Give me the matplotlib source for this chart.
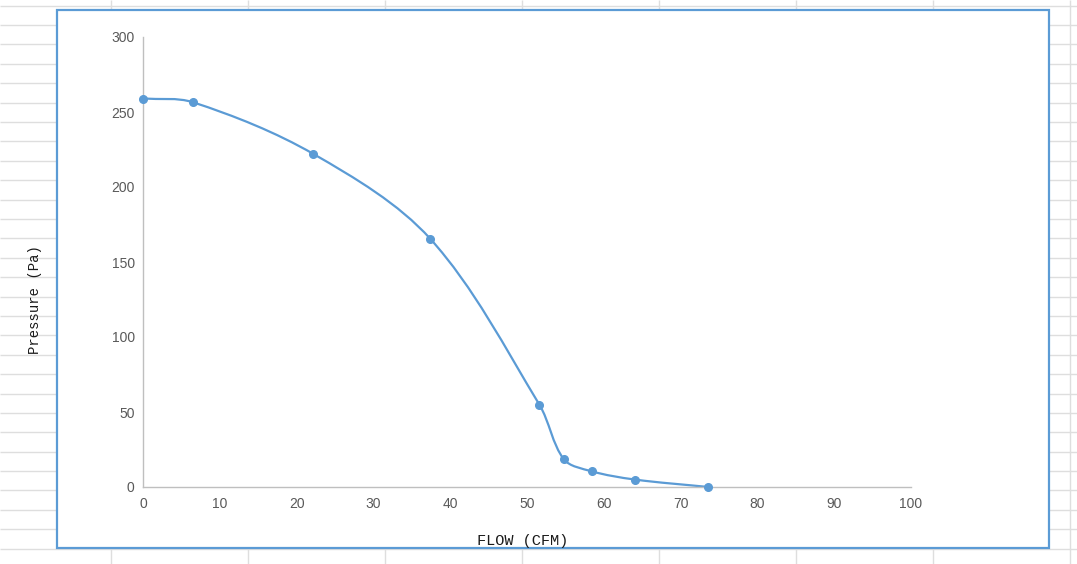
import numpy as np
import matplotlib.pyplot as plt
from matplotlib.path import Path
from matplotlib.patches import PathPatch, Rectangle

# fan curve values
flow = [0, 6.5, 22.2, 37.4, 51.6, 54.8, 58.4, 64.0, 73.6]
pressure = [259, 256.5, 222, 165.5, 55, 18.5, 10.5, 5, 0]
xticks = [0, 10, 20, 30, 40, 50, 60, 70, 80, 90, 100]
yticks = [0, 50, 100, 150, 200, 250, 300]

W, H = 1077, 564
blue = '#5b9bd5'
fig = plt.figure(figsize=(W / 100, H / 100), dpi=100)

# spreadsheet cells behind the chart box
bg = fig.add_axes([0, 0, 1, 1], zorder=-1)
bg.set_xlim(0, W)
bg.set_ylim(H, 0)
bg.axis('off')
bg.hlines(np.arange(5.5, H, 19.4), 0, W, color='#dedede', lw=1, zorder=1)
bg.vlines(np.arange(111, W, 137), 0, H, color='#dedede', lw=1, zorder=1)
bg.add_patch(Rectangle((57, 10), 992, 538, facecolor='white', edgecolor=blue,
                       lw=1.6, zorder=3))

ax = fig.add_axes([143 / W, 77 / H, (911 - 143) / W, (487 - 37) / H])
ax.set_facecolor('none')
ax.set_xlim(0, 100)
ax.set_ylim(0, 300)
ax.set_xticks(xticks)
ax.set_yticks(yticks)
for s in ['top', 'right']:
    ax.spines[s].set_visible(False)
for s in ['left', 'bottom']:
    ax.spines[s].set_color('#bfbfbf')
    ax.spines[s].set_linewidth(1.0)
ax.tick_params(length=0, labelsize=10, labelcolor='#595959')
ax.tick_params(axis='x', pad=7)
ax.tick_params(axis='y', pad=6)
for lab in ax.get_xticklabels() + ax.get_yticklabels():
    lab.set_fontfamily('Liberation Sans')

# smoothed line: bezier segments, tangents scaled by segment length (in pixels)
sx, sy = 7.68, 1.5
pts = np.column_stack([flow, pressure]).astype(float) * [sx, sy]
n = len(pts)
d = np.hypot(*np.diff(pts, axis=0).T)
tan = np.zeros_like(pts)
for i in range(n):
    a = pts[max(i - 1, 0)]
    b = pts[min(i + 1, n - 1)]
    tan[i] = b - a
verts = [tuple(pts[0])]
codes = [Path.MOVETO]
for i in range(n - 1):
    dl = d[i - 1] if i > 0 else d[i]
    dr = d[i + 1] if i < n - 2 else d[i]
    c1 = pts[i] + tan[i] * d[i] / (dl + d[i]) / 3 * (2 if i == 0 else 1)
    c2 = pts[i + 1] - tan[i + 1] * d[i] / (d[i] + dr) / 3 * (2 if i == n - 2 else 1)
    verts += [tuple(c1), tuple(c2), tuple(pts[i + 1])]
    codes += [Path.CURVE4] * 3
verts = np.array(verts) / [sx, sy]
ax.add_patch(PathPatch(Path(verts, codes), facecolor='none', edgecolor=blue,
                       lw=1.6, clip_on=False))
ax.plot(flow, pressure, 'o', color=blue, ms=5.5, clip_on=False, zorder=3)

fig.text(523 / W, 1 - 541 / H, 'FLOW (CFM)', ha='center', va='center',
         fontsize=11, family='Liberation Mono', color='#1a1a1a')
fig.text(35 / W, 1 - 300 / H, 'Pressure (Pa)', ha='center', va='center',
         rotation=90, fontsize=10, family='Liberation Mono', color='#1a1a1a')

fig.savefig('out.png', dpi=100)
